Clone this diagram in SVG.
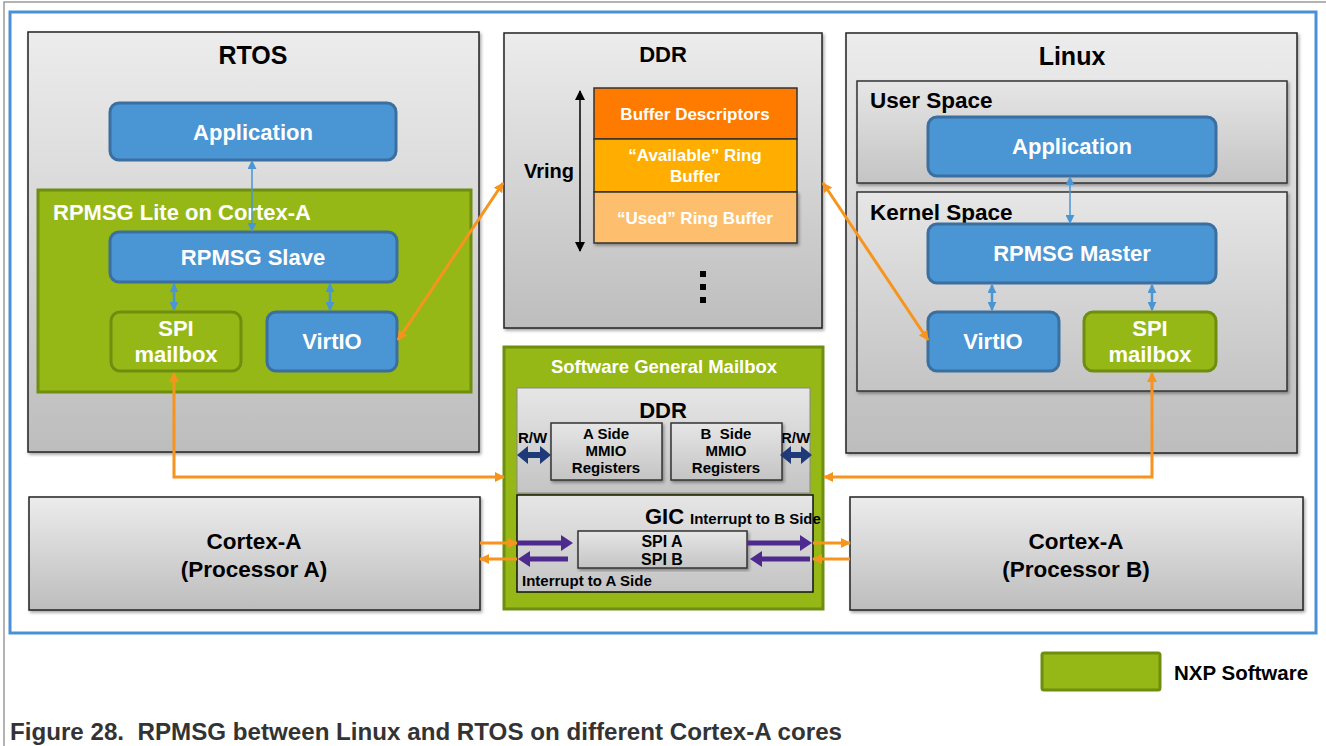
<svg xmlns="http://www.w3.org/2000/svg" width="1326" height="746" viewBox="0 0 1326 746">
<defs>
<linearGradient id="gray" x1="0" y1="0" x2="0" y2="1">
<stop offset="0" stop-color="#ECECEC"/><stop offset="1" stop-color="#BDBDBD"/>
</linearGradient>
<linearGradient id="gray2" x1="0" y1="0" x2="0" y2="1">
<stop offset="0" stop-color="#E6E6E6"/><stop offset="1" stop-color="#C4C4C4"/>
</linearGradient>
<filter id="sh" x="-5%" y="-5%" width="110%" height="115%">
<feDropShadow dx="1.5" dy="2" stdDeviation="1.5" flood-color="#000" flood-opacity="0.35"/>
</filter>
<marker id="oh" viewBox="0 0 10 10" refX="9" refY="5" markerWidth="10" markerHeight="10" markerUnits="userSpaceOnUse" orient="auto-start-reverse">
<path d="M0,0 L10,5 L0,10 z" fill="#F7941D"/>
</marker>
<marker id="bh" viewBox="0 0 10 10" refX="9" refY="5" markerWidth="9" markerHeight="9" markerUnits="userSpaceOnUse" orient="auto-start-reverse">
<path d="M0,0 L10,5 L0,10 z" fill="#4A95D3"/>
</marker>
<marker id="kh" viewBox="0 0 10 10" refX="9" refY="5" markerWidth="10" markerHeight="10" markerUnits="userSpaceOnUse" orient="auto-start-reverse">
<path d="M0,0 L10,5 L0,10 z" fill="#000"/>
</marker>
<style>
.gbox{fill:url(#gray);stroke:#222;stroke-width:1.5;filter:url(#sh)}
.ibox{fill:url(#gray2);stroke:#333;stroke-width:1.5;filter:url(#sh)}
.blue{fill:#4A95D3;stroke:#3A6FA0;stroke-width:3}
.grn{fill:#95B817;stroke:#6F8D0E;stroke-width:3}
text{font-family:"Liberation Sans",Arial,sans-serif;font-weight:bold}
.t{fill:#000;text-anchor:middle}
.w{fill:#fff;text-anchor:middle}
.o{fill:none;stroke:#F7941D;stroke-width:3;marker-start:url(#oh);marker-end:url(#oh)}
.o1{fill:none;stroke:#F7941D;stroke-width:3;marker-end:url(#oh)}
.bl{fill:none;stroke:#4A95D3;stroke-width:2.5;marker-start:url(#bh);marker-end:url(#bh)}
.bt{fill:none;stroke:#4A95D3;stroke-width:1.5;marker-start:url(#bh);marker-end:url(#bh)}
.nv{fill:#1F3A78}
.pu{fill:#4E2A8E}
</style>
</defs>
<rect width="1326" height="746" fill="#fff"/>
<path d="M4,746 V2 H1326" fill="none" stroke="#9A9A9A" stroke-width="1.5"/>
<rect x="10" y="12" width="1306" height="621" fill="none" stroke="#4A90D6" stroke-width="3"/>

<g id="rtos">
<rect class="gbox" x="28" y="32" width="451" height="420"/>
<text class="t" x="253" y="64" font-size="25">RTOS</text>
</g>
<g id="rtos-app">
<rect class="blue" x="110" y="103" width="286" height="57" rx="9"/>
<text class="w" x="253" y="140" font-size="22">Application</text>
</g>
<g id="rpmsg-lite">
<rect class="grn" x="38" y="190" width="433" height="202"/>
<text x="53" y="220" font-size="22" fill="#fff">RPMSG Lite on Cortex-A</text>
</g>
<g id="rpmsg-slave">
<rect class="blue" x="110" y="232" width="287" height="50" rx="9"/>
<text class="w" x="253" y="265" font-size="22">RPMSG Slave</text>
</g>
<g id="rtos-spi">
<rect class="grn" x="111" y="312" width="130" height="59" rx="9"/>
<text class="w" x="176" y="336" font-size="22">SPI</text>
<text class="w" x="176" y="362" font-size="22">mailbox</text>
</g>
<g id="rtos-virtio">
<rect class="blue" x="267" y="312" width="130" height="59" rx="9"/>
<text class="w" x="332" y="349" font-size="22">VirtIO</text>
</g>

<g id="ddr">
<rect class="gbox" x="504" y="33" width="318" height="295"/>
<text class="t" x="663" y="62" font-size="22">DDR</text>
<text x="524" y="178" font-size="20" fill="#000">Vring</text>
<rect x="700" y="271" width="6" height="6" fill="#000"/>
<rect x="700" y="284" width="6" height="6" fill="#000"/>
<rect x="700" y="297" width="6" height="6" fill="#000"/>
</g>
<g id="buf-desc">
<rect x="594" y="88" width="203" height="51" fill="#FF7B00" stroke="#333" stroke-width="1.5"/>
<text class="w" x="695" y="120" font-size="17">Buffer Descriptors</text>
</g>
<g id="avail-ring">
<rect x="594" y="139" width="203" height="53" fill="#FFAE00" stroke="#333" stroke-width="1.5"/>
<text class="w" x="695" y="161" font-size="17">“Available” Ring</text>
<text class="w" x="695" y="182" font-size="17">Buffer</text>
</g>
<g id="used-ring">
<rect x="594" y="192" width="203" height="51" fill="#FDBF6E" stroke="#333" stroke-width="1.5" filter="url(#sh)"/>
<text class="w" x="695" y="224" font-size="17">“Used” Ring Buffer</text>
</g>

<g id="linux">
<rect class="gbox" x="846" y="33" width="451" height="420"/>
<text class="t" x="1072" y="65" font-size="25">Linux</text>
</g>
<g id="user-space">
<rect class="ibox" x="857" y="81" width="430" height="102"/>
<text x="870" y="108" font-size="22.5" fill="#000">User Space</text>
</g>
<g id="linux-app">
<rect class="blue" x="928" y="117" width="288" height="59" rx="9"/>
<text class="w" x="1072" y="154" font-size="22">Application</text>
</g>
<g id="kernel-space">
<rect class="ibox" x="857" y="192" width="430" height="199"/>
<text x="870" y="220" font-size="22.5" fill="#000">Kernel Space</text>
</g>
<g id="rpmsg-master">
<rect class="blue" x="928" y="224" width="288" height="59" rx="9"/>
<text class="w" x="1072" y="261" font-size="22">RPMSG Master</text>
</g>
<g id="linux-virtio">
<rect class="blue" x="928" y="312" width="131" height="59" rx="9"/>
<text class="w" x="993" y="349" font-size="22">VirtIO</text>
</g>
<g id="linux-spi">
<rect class="grn" x="1084" y="312" width="132" height="59" rx="9"/>
<text class="w" x="1150" y="336" font-size="22">SPI</text>
<text class="w" x="1150" y="362" font-size="22">mailbox</text>
</g>

<g id="sw-mailbox">
<rect class="grn" x="504" y="347" width="319" height="262"/>
<text class="w" x="664" y="373" font-size="18.5">Software General Mailbox</text>
</g>
<g id="mb-ddr">
<rect x="517" y="388" width="293" height="105" fill="url(#gray2)" stroke="#888" stroke-width="1"/>
<text class="t" x="663" y="418" font-size="22">DDR</text>
<text x="518" y="443" font-size="15" fill="#000">R/W</text>
<text x="781" y="443" font-size="15" fill="#000">R/W</text>
</g>
<g id="a-side">
<rect class="ibox" x="551" y="423" width="111" height="57"/>
<text class="t" x="606" y="439" font-size="15">A Side</text>
<text class="t" x="606" y="456" font-size="15">MMIO</text>
<text class="t" x="606" y="473" font-size="15">Registers</text>
</g>
<g id="b-side">
<rect class="ibox" x="671" y="423" width="111" height="57"/>
<text class="t" x="726" y="439" font-size="15" xml:space="preserve">B  Side</text>
<text class="t" x="726" y="456" font-size="15">MMIO</text>
<text class="t" x="726" y="473" font-size="15">Registers</text>
</g>
<g id="gic">
<rect x="517" y="495" width="296" height="97" fill="url(#gray2)" stroke="#111" stroke-width="1.5"/>
<text x="645" y="524" font-size="22" fill="#000">GIC</text>
<text x="690" y="524" font-size="15" fill="#000">Interrupt to B Side</text>
<text x="522" y="586" font-size="15" fill="#000">Interrupt to A Side</text>
</g>
<g id="spi-ab">
<rect class="ibox" x="578" y="531" width="169" height="37"/>
<text class="t" x="662" y="547" font-size="16">SPI A</text>
<text class="t" x="662" y="565" font-size="16">SPI B</text>
</g>

<g id="cpu-a">
<rect class="gbox" x="29" y="497" width="451" height="113"/>
<text class="t" x="254" y="549" font-size="22.5">Cortex-A</text>
<text class="t" x="254" y="577" font-size="22.5">(Processor A)</text>
</g>
<g id="cpu-b">
<rect class="gbox" x="850" y="497" width="453" height="113"/>
<text class="t" x="1076" y="549" font-size="22.5">Cortex-A</text>
<text class="t" x="1076" y="577" font-size="22.5">(Processor B)</text>
</g>

<g id="connectors">
<line class="bt" x1="252" y1="161" x2="252" y2="231"/>
<line class="bl" x1="174" y1="284" x2="174" y2="310"/>
<line class="bl" x1="330" y1="284" x2="330" y2="310"/>
<line class="bt" x1="1070" y1="177" x2="1070" y2="223"/>
<line class="bl" x1="992" y1="285" x2="992" y2="310"/>
<line class="bl" x1="1152" y1="285" x2="1152" y2="310"/>
<line x1="580" y1="91" x2="580" y2="251" stroke="#000" stroke-width="1.5" marker-start="url(#kh)" marker-end="url(#kh)"/>
<line class="o" x1="398" y1="340" x2="503" y2="183"/>
<line class="o" x1="823" y1="183" x2="928" y2="340"/>
<polyline class="o" points="174,373 174,477 504,477"/>
<polyline class="o" points="1152,373 1152,477 824,477"/>
<line class="o1" x1="480" y1="543" x2="517" y2="543"/>
<line class="o1" x1="517" y1="559" x2="480" y2="559"/>
<line class="o1" x1="813" y1="543" x2="850" y2="543"/>
<line class="o1" x1="850" y1="559" x2="813" y2="559"/>
<polygon class="nv" points="517,455 528,446 528,452 540,452 540,446 551,455 540,464 540,458 528,458 528,464"/>
<polygon class="nv" points="780,455 791,446 791,452 801,452 801,446 812,455 801,464 801,458 791,458 791,464"/>
<polygon class="pu" points="517,540.5 561,540.5 561,535 573,543 561,551 561,545.5 517,545.5"/>
<polygon class="pu" points="568,556.5 530,556.5 530,551 518,559 530,567 530,561.5 568,561.5"/>
<polygon class="pu" points="747,540.5 800,540.5 800,535 812,543 800,551 800,545.5 747,545.5"/>
<polygon class="pu" points="810,556.5 762,556.5 762,551 750,559 762,567 762,561.5 810,561.5"/>
</g>

<g id="legend">
<rect x="1042" y="653" width="118" height="37" rx="2" fill="#95B817" stroke="#6F8D0E" stroke-width="3"/>
<text x="1174" y="680" font-size="20.5" fill="#000">NXP Software</text>
</g>
<text x="10" y="740" font-size="23" fill="#333" xml:space="preserve" textLength="832" lengthAdjust="spacingAndGlyphs">Figure 28.  RPMSG between Linux and RTOS on different Cortex-A cores</text>
</svg>
